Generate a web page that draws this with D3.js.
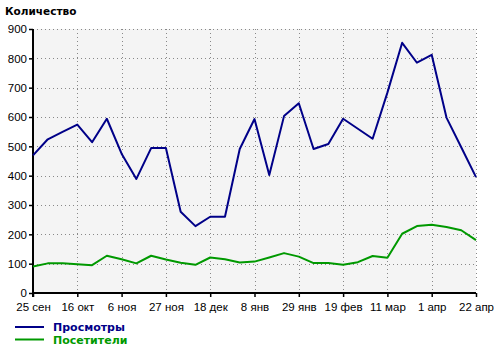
<!DOCTYPE html>
<meta charset="utf-8">
<style>
    body { margin: 0; background: #fff; }
    svg { display: block; }
</style>

<script src="https://d3js.org/d3.v7.min.js"></script>

<svg id="chart" width="500" height="351"></svg>

<script>

// Data (weekly, 25 сен .. 22 апр)

var startDate = new Date(2011, 8, 25);
var endDate   = new Date(2012, 3, 22);

var views = [469, 524, 549, 574, 514, 594, 475, 389, 494, 494,
             277, 228, 260, 260, 491, 593, 402, 603, 647, 491,
             508, 594, 560, 526, 683, 853, 785, 812, 598, 497, 395];

var visitors = [90, 101, 101, 98, 95, 127, 115, 101, 127, 114,
                103, 96, 121, 115, 104, 107, 121, 136, 124, 102,
                102, 96, 105, 126, 120, 202, 228, 233, 225, 214, 180];

var tickLabels = ['25 сен', '16 окт', '6 ноя', '27 ноя', '18 дек', '8 янв',
                  '29 янв', '19 фев', '11 мар', '1 апр', '22 апр'];

var yTicks = [0, 100, 200, 300, 400, 500, 600, 700, 800, 900];

var seriesNames  = ['Просмотры', 'Посетители'];
var seriesColors = ['#000088', '#009900'];


// Setup

var svg = d3.select('svg#chart');

var plotLeft = 33, plotRight = 476, plotTop = 29, plotBottom = 293;

var weeks = d3.timeWeek.range(startDate, d3.timeDay.offset(endDate, 1));
var tickDates = weeks.filter(function (d, i) { return i % 3 === 0; });

var x = d3.scaleTime()
    .domain([startDate, endDate])
    .range([plotLeft, plotRight]);

var y = d3.scaleLinear()
    .domain([0, 900])
    .range([plotBottom, plotTop]);


// Plot background and grid

svg.append('rect')
    .attr('x', plotLeft)
    .attr('y', plotTop)
    .attr('width', plotRight - plotLeft)
    .attr('height', plotBottom - plotTop)
    .attr('fill', '#f4f4f4');

svg.append('g')
    .selectAll('line')
    .data(yTicks.slice(1))
    .enter().append('line')
    .attr('x1', plotLeft).attr('x2', plotRight)
    .attr('y1', function (d) { return Math.round(y(d)) + 0.5; })
    .attr('y2', function (d) { return Math.round(y(d)) + 0.5; })
    .attr('stroke', '#888')
    .attr('stroke-dasharray', '1,3');

svg.append('g')
    .selectAll('line')
    .data(tickDates.slice(1))
    .enter().append('line')
    .attr('x1', function (d) { return Math.round(x(d)) + 0.5; })
    .attr('x2', function (d) { return Math.round(x(d)) + 0.5; })
    .attr('y1', plotTop).attr('y2', plotBottom)
    .attr('stroke', '#888')
    .attr('stroke-dasharray', '1,3');


// Axes

var yAxis = d3.axisLeft(y)
    .tickValues(yTicks)
    .tickSize(4)
    .tickPadding(2);

var xAxis = d3.axisBottom(x)
    .tickValues(tickDates)
    .tickSize(4)
    .tickPadding(6)
    .tickFormat(function (d, i) { return tickLabels[i]; });

var gy = svg.append('g')
    .attr('transform', 'translate(' + plotLeft + ',0)')
    .call(yAxis);

var gx = svg.append('g')
    .attr('transform', 'translate(0,' + plotBottom + ')')
    .call(xAxis);

[gx, gy].forEach(function (g) {
    g.select('.domain').remove();
    g.selectAll('.tick line').attr('stroke', '#000').attr('stroke-width', 1.5);
    g.selectAll('.tick text')
        .attr('fill', '#000')
        .style('font-family', '"Liberation Sans", Arial, sans-serif')
        .style('font-size', '11.5px');
});

svg.append('line')
    .attr('x1', plotLeft).attr('x2', plotLeft)
    .attr('y1', plotTop).attr('y2', plotBottom + 4)
    .attr('stroke', '#000').attr('stroke-width', 2);

svg.append('line')
    .attr('x1', plotLeft).attr('x2', plotRight)
    .attr('y1', plotBottom).attr('y2', plotBottom)
    .attr('stroke', '#000').attr('stroke-width', 2);


// Lines

var lineFn = d3.line()
    .x(function (d, i) { return x(weeks[i]); })
    .y(function (d) { return y(d); });

[views, visitors].forEach(function (series, k) {
    svg.append('path')
        .attr('d', lineFn(series))
        .attr('fill', 'none')
        .attr('stroke', seriesColors[k])
        .attr('stroke-width', 2)
        .attr('stroke-linejoin', 'round');
});


// Title

svg.append('text')
    .attr('x', 5)
    .attr('y', 15)
    .style('font-family', '"DejaVu Sans", Verdana, sans-serif')
    .style('font-weight', 'bold')
    .style('font-size', '10.5px')
    .text('Количество');


// Legend

var legend = svg.append('g')
    .selectAll('g')
    .data(seriesNames)
    .enter().append('g')
    .attr('transform', function (d, i) { return 'translate(15,' + (327 + i * 12.5) + ')'; });

legend.append('line')
    .attr('x1', 0).attr('x2', 29)
    .attr('stroke', function (d, i) { return seriesColors[i]; })
    .attr('stroke-width', 2);

legend.append('text')
    .attr('x', 38)
    .attr('y', 4)
    .attr('fill', function (d, i) { return seriesColors[i]; })
    .style('font-family', '"DejaVu Sans", Verdana, sans-serif')
    .style('font-weight', 'bold')
    .style('font-size', '11px')
    .text(function (d) { return d; });

</script>
